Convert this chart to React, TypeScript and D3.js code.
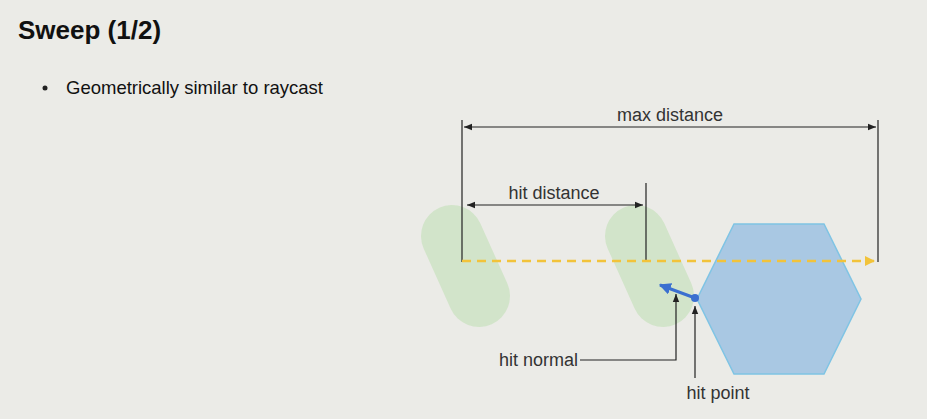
import React from "react";
import * as d3 from "d3";

const title = "Sweep (1/2)";
const bullets = ["Geometrically similar to raycast"];
const startX = 462;
const maxDist = 416;
const hitDist = 184;
const labels = ["max distance", "hit distance", "hit normal", "hit point"];

export default function App() {
  const x = d3.scaleLinear().domain([0, maxDist]).range([startX, startX + maxDist]);
  const hitX = x(hitDist);
  const endX = x(maxDist);
  const capsule = (dx: number) => {
    const a = [452 + dx, 236], b = [479 + dx, 296];
    return (
      <line x1={a[0]} y1={a[1]} x2={b[0]} y2={b[1]} stroke="#cfe3c6" strokeOpacity={0.9} strokeWidth={62} strokeLinecap="round" />
    );
  };
  const hex = d3.line()([[734, 224], [824, 224], [861, 299], [824, 374], [734, 374], [697, 299]]) + "Z";
  const font = "Liberation Sans, Arial, sans-serif";
  return (
    <svg width={927} height={419} style={{ position: "absolute", left: 0, top: 0 }}>
      <defs>
        <marker id="ab" viewBox="0 0 10 10" refX="10" refY="5" markerWidth="7" markerHeight="7" orient="auto-start-reverse">
          <path d="M0,1 L10,5 L0,9 Z" fill="#222" />
        </marker>
        <marker id="ay" viewBox="0 0 10 10" refX="9" refY="5" markerWidth="4" markerHeight="4" orient="auto">
          <path d="M0,0 L10,5 L0,10 Z" fill="#f2c33a" />
        </marker>
        <marker id="abl" viewBox="0 0 10 10" refX="9" refY="5" markerWidth="4" markerHeight="4" orient="auto">
          <path d="M0,0 L10,5 L0,10 Z" fill="#3a6fd0" />
        </marker>
      </defs>
      <rect width={927} height={419} fill="#ebebe7" />
      <text x={18} y={39} fontFamily={font} fontWeight="bold" fontSize={26} fill="#111">{title}</text>
      {bullets.map((b, i) => (
        <g key={i}>
          <circle cx={45} cy={88 + i * 26} r={2.5} fill="#222" />
          <text x={66} y={94 + i * 26} fontFamily={font} fontSize={18.5} fill="#111">{b}</text>
        </g>
      ))}
      {capsule(0)}
      {capsule(hitX - startX)}
      <path d={hex} fill="#a9c8e3" stroke="#7fc4e4" strokeWidth={1.5} />
      <g stroke="#222" strokeWidth={1.2} fill="none">
        <line x1={startX} y1={120} x2={startX} y2={262} />
        <line x1={endX} y1={120} x2={endX} y2={262} />
        <line x1={startX + 2} y1={127} x2={endX - 2} y2={127} markerStart="url(#ab)" markerEnd="url(#ab)" />
        <line x1={hitX} y1={183} x2={hitX} y2={262} />
        <line x1={startX + 5} y1={205} x2={hitX - 3} y2={205} markerStart="url(#ab)" markerEnd="url(#ab)" />
        <polyline points="580,360 676,360 676,294" markerEnd="url(#ab)" />
        <line x1={695} y1={378} x2={695} y2={306} markerEnd="url(#ab)" />
      </g>
      <line x1={startX} y1={261} x2={endX - 4} y2={261} stroke="#f2c33a" strokeWidth={2.5} strokeDasharray="9 6" markerEnd="url(#ay)" />
      <line x1={695} y1={298} x2={660} y2={285} stroke="#3a6fd0" strokeWidth={3} markerEnd="url(#abl)" />
      <circle cx={695} cy={298} r={4} fill="#3a6fd0" />
      <g fontFamily={font} fontSize={18} fill="#333">
        <text x={(startX + endX) / 2} y={121} textAnchor="middle">{labels[0]}</text>
        <text x={(startX + hitX) / 2} y={199} textAnchor="middle">{labels[1]}</text>
        <text x={578} y={366} textAnchor="end">{labels[2]}</text>
        <text x={718} y={399} textAnchor="middle">{labels[3]}</text>
      </g>
    </svg>
  );
}
